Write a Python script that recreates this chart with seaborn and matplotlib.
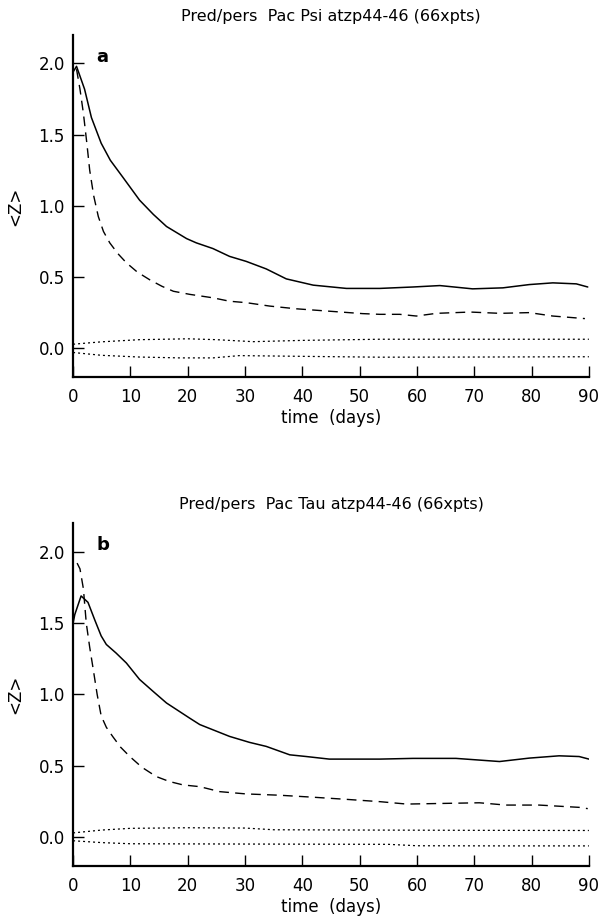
import matplotlib
matplotlib.use("Agg")
import matplotlib.pyplot as plt
import seaborn as sns

# ---------------- data ----------------
# Panel a: Pac Psi
a_solid_days = [0, 0.6, 2.0, 3.2, 4.9, 6.5, 8.7, 11.6, 14.0, 16.3, 19.8, 21.5, 24.4, 27.3, 30.2, 33.7,
                37.2, 41.9, 47.7, 53.5, 59.3, 64.0, 69.7, 75.0, 79.6, 83.7, 87.8, 89.8]
a_solid_vals = [1.94, 1.98, 1.82, 1.62, 1.44, 1.32, 1.20, 1.04, 0.94, 0.855, 0.77, 0.74, 0.70, 0.645,
                0.61, 0.557, 0.487, 0.443, 0.42, 0.42, 0.43, 0.44, 0.417, 0.424, 0.447, 0.459,
                0.452, 0.43]

a_dash_days = [0.6, 1.2, 1.8, 2.4, 2.9, 3.6, 4.4, 5.3, 6.4, 7.8, 9.3, 11.2, 13.4, 15.5, 17.5, 20.4,
               24.4, 27.3, 30.2, 34.3, 38.9, 44.7, 50.5, 53.5, 57.0, 59.9, 63.4, 69.3, 74.5,
               79.6, 83.7, 89.3]
a_dash_vals = [1.96, 1.82, 1.65, 1.44, 1.25, 1.07, 0.925, 0.82, 0.74, 0.665, 0.60, 0.535, 0.48,
               0.435, 0.40, 0.378, 0.354, 0.33, 0.32, 0.296, 0.277, 0.26, 0.243, 0.238, 0.238,
               0.226, 0.245, 0.254, 0.245, 0.25, 0.226, 0.208]

a_dot_hi_days = [0, 5, 11.6, 20, 25, 31.4, 40, 53.5, 70, 90]
a_dot_hi_vals = [0.028, 0.045, 0.060, 0.066, 0.060, 0.046, 0.055, 0.063, 0.063, 0.063]
a_dot_lo_days = [0, 5, 11.6, 18.6, 24.4, 29, 41.9, 53.5, 70, 90]
a_dot_lo_vals = [-0.030, -0.050, -0.062, -0.068, -0.068, -0.052, -0.058, -0.063, -0.062, -0.060]

# Panel b: Pac Tau
b_solid_days = [0, 0.3, 1.4, 2.6, 3.8, 4.9, 5.8, 7.5, 9.3, 11.6, 14.0, 16.3, 20.3, 22.1, 27.3,
                30.8, 33.7, 37.8, 40.7, 44.7, 53.5, 59.3, 66.8, 74.4, 79.6, 84.8, 88.3, 90]
b_solid_vals = [1.50, 1.56, 1.69, 1.645, 1.52, 1.41, 1.35, 1.29, 1.22, 1.105, 1.02, 0.94, 0.835,
                0.789, 0.706, 0.664, 0.636, 0.577, 0.565, 0.547, 0.547, 0.552, 0.552, 0.53,
                0.554, 0.57, 0.565, 0.547]

b_dash_days = [0.7, 1.2, 1.8, 2.3, 2.9, 3.5, 4.2, 4.9, 5.8, 6.9, 8.3, 9.9, 12.0, 14.5, 16.8, 19.2,
               22.1, 25.6, 30.2, 36.0, 41.9, 47.7, 53.5, 58.2, 65.2, 70.9, 75.5, 81.3, 88.3, 89.8]
b_dash_vals = [1.92, 1.88, 1.74, 1.50, 1.33, 1.18, 1.00, 0.85, 0.77, 0.706, 0.63, 0.565, 0.49,
               0.425, 0.39, 0.366, 0.354, 0.319, 0.303, 0.294, 0.28, 0.265, 0.249, 0.232, 0.237,
               0.241, 0.225, 0.225, 0.209, 0.20]

b_dot_hi_days = [0, 5, 10, 20, 30, 35, 50, 70, 90]
b_dot_hi_vals = [0.030, 0.050, 0.062, 0.066, 0.064, 0.052, 0.050, 0.048, 0.047]
b_dot_lo_days = [0, 5, 10, 30, 55, 60, 75, 90]
b_dot_lo_vals = [-0.025, -0.038, -0.046, -0.048, -0.050, -0.060, -0.061, -0.061]

titles = ["Pred/pers  Pac Psi atzp44-46 (66xpts)",
          "Pred/pers  Pac Tau atzp44-46 (66xpts)"]
panel_tags = ["a", "b"]
x_ticks = [0, 10, 20, 30, 40, 50, 60, 70, 80, 90]
y_ticks = [0.0, 0.5, 1.0, 1.5, 2.0]
y_ticklabels = ["0.0", "0.5", "1.0", "1.5", "2.0"]

# ---------------- figure ----------------
sns.set_style("ticks")
plt.rcParams["font.family"] = ["DejaVu Sans"]
plt.rcParams["text.color"] = "black"
plt.rcParams["axes.labelcolor"] = "black"

fig = plt.figure(figsize=(6.04, 9.21), dpi=100)
ax_a = fig.add_axes([0.121, 0.591, 0.854, 0.371])
ax_b = fig.add_axes([0.121, 0.060, 0.854, 0.372])

panels = [
    (ax_a, (a_solid_days, a_solid_vals), (a_dash_days, a_dash_vals),
     (a_dot_hi_days, a_dot_hi_vals), (a_dot_lo_days, a_dot_lo_vals)),
    (ax_b, (b_solid_days, b_solid_vals), (b_dash_days, b_dash_vals),
     (b_dot_hi_days, b_dot_hi_vals), (b_dot_lo_days, b_dot_lo_vals)),
]

for i, (ax, solid, dash, dhi, dlo) in enumerate(panels):
    sns.lineplot(x=solid[0], y=solid[1], ax=ax, color="black", lw=1.1,
                 estimator=None, sort=False)
    sns.lineplot(x=dash[0], y=dash[1], ax=ax, color="black", lw=1.0,
                 linestyle=(0, (7, 4.5)), estimator=None, sort=False)
    sns.lineplot(x=dhi[0], y=dhi[1], ax=ax, color="black", lw=0.9,
                 linestyle=(0, (1.6, 2.4)), estimator=None, sort=False)
    sns.lineplot(x=dlo[0], y=dlo[1], ax=ax, color="black", lw=0.9,
                 linestyle=(0, (1.6, 2.4)), estimator=None, sort=False)

    ax.set_xlim(0, 90)
    ax.set_ylim(-0.2, 2.2)
    ax.set_xticks(x_ticks)
    ax.set_xticklabels([str(t) for t in x_ticks])
    ax.set_yticks(y_ticks)
    ax.set_yticklabels(y_ticklabels)
    ax.tick_params(direction="in", length=8, width=1.0, labelsize=12,
                   colors="black", pad=6)
    ax.tick_params(axis="x", pad=8)
    for s in ["top", "right"]:
        ax.spines[s].set_visible(False)
    for s in ["left", "bottom"]:
        ax.spines[s].set_linewidth(1.6)
        ax.spines[s].set_color("black")
    ax.set_xlabel("time  (days)", fontsize=12, labelpad=2, color="black")
    ax.set_ylabel("<Z>", fontsize=12, labelpad=10, color="black")
    ax.set_title(titles[i], fontsize=11.5, pad=10, color="black")
    ax.text(0.045, 0.935, panel_tags[i], transform=ax.transAxes,
            fontsize=13, fontweight="bold", va="center", ha="left", color="black")

fig.savefig("out.png", dpi=100)
